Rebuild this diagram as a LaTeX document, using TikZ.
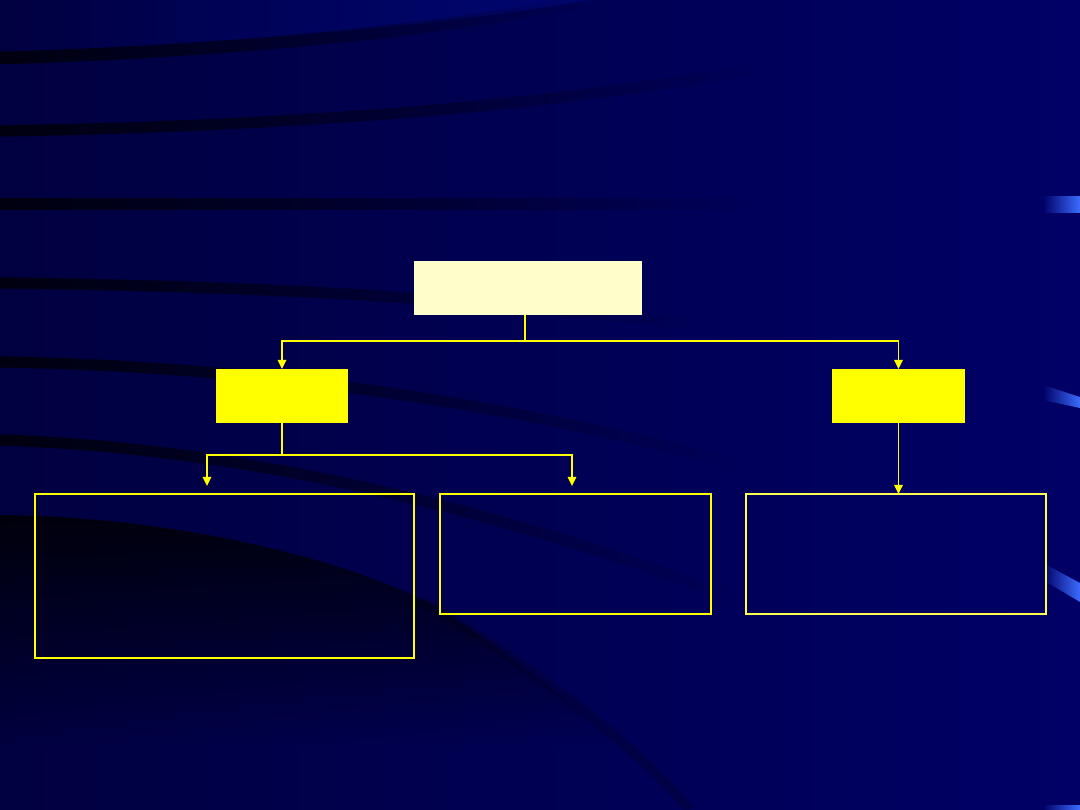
\documentclass[tikz,border=0pt]{standalone}
\usetikzlibrary{arrows.meta,fadings,calc}
\definecolor{navy}{HTML}{000066}
\definecolor{navydark}{HTML}{000040}
\definecolor{navylight}{HTML}{000C88}
\definecolor{cream}{HTML}{FFFFCC}
\definecolor{yel}{HTML}{FFFF00}
\definecolor{paleyel}{HTML}{FFFF50}
\definecolor{hiblue}{HTML}{3A6CFF}
\tikzfading[name=downfade, top color=transparent!0, middle color=transparent!30, bottom color=transparent!100]
\tikzset{
  fillbox/.style={draw=none,inner sep=0pt,outer sep=0pt},
  framebox/.style={draw=yel,line width=1.6pt,inner sep=0pt,outer sep=0pt},
  thinframe/.style={draw=paleyel,line width=0.9pt,inner sep=0pt,outer sep=0pt},
  arr/.style={draw=yel,line width=1.3pt,-{Triangle[length=6.5pt,width=6pt]}},
  conn/.style={draw=yel,line width=1.3pt},
  stripe/.style={draw=black,opacity=0.75,line cap=butt},
}
\begin{document}
\begin{tikzpicture}[x=0.025cm,y=-0.025cm]
% background
\shade[left color=navydark,right color=navy] (0,0) rectangle (1080,810);
\useasboundingbox (0,0) rectangle (1080,810);
% lighter area above the first stripe
\fill[navylight,opacity=0.55,path fading=west] (0,0) -- (0,52) .. controls (200,46) and (420,29) .. (590,0) -- cycle;
% dark stripes
\draw[stripe,line width=9pt,path fading=east] (0,58) .. controls (200,52) and (420,35) .. (590,0);
\draw[stripe,line width=8pt,path fading=east] (0,131) .. controls (300,126) and (560,105) .. (760,68);
\draw[stripe,line width=8pt,path fading=east] (0,204) -- (760,204);
\draw[stripe,line width=8pt,path fading=east] (0,283) .. controls (250,286) and (450,296) .. (700,325);
\draw[stripe,line width=8pt,path fading=east] (0,362) .. controls (250,366) and (500,400) .. (740,465);
\draw[stripe,line width=8pt,path fading=east] (0,440) .. controls (250,448) and (500,510) .. (740,600);
% large dark region bottom-left
\begin{scope}
\clip (0,515) .. controls (200,517) and (380,570) .. (450,615) .. controls (560,690) and (640,760) .. (690,810) -- (0,810) -- cycle;
\fill[black,opacity=0.85,path fading=downfade] (0,505) rectangle (720,745);
\end{scope}
\draw[black,opacity=0.2,line width=7pt] (420,600) .. controls (540,670) and (640,750) .. (690,810);
% blue highlights at right edge
\shade[left color=navy,right color=hiblue] (1043,196) rectangle (1080,212);
\shade[left color=navy,right color=hiblue] (1043,385) -- (1080,397) -- (1080,408) -- (1043,400) -- cycle;
\shade[left color=navy,right color=hiblue] (1043,563) -- (1080,583) -- (1080,602) -- (1043,580) -- cycle;
\shade[left color=navy,right color=hiblue] (1043,805) rectangle (1080,810);
% nodes
\node[fillbox,fill=cream,minimum width=5.7cm,minimum height=1.35cm] (top) at (528,288) {};
\node[fillbox,fill=yel,minimum width=3.3cm,minimum height=1.35cm] (ly) at (282,396) {};
\node[fillbox,fill=yel,minimum width=3.325cm,minimum height=1.35cm] (ry) at (898.5,396) {};
\node[framebox,minimum width=9.475cm,minimum height=4.1cm] (bl) at (224.5,576) {};
\node[framebox,minimum width=6.775cm,minimum height=3.0cm] (bm) at (575.5,554) {};
\node[thinframe,minimum width=7.5cm,minimum height=3.0cm] (br) at (896,554) {};
% junctions
\coordinate (j0) at (525,341);
\coordinate (j1) at (282,455);
\coordinate (la) at (207,486);
\coordinate (lb) at (572,486);
% connectors
\draw[conn] (j0 |- top.south) -- (j0);
\draw[arr] (j0) -| (ly.north);
\draw[arr] (j0) -| (ry.north);
\draw[conn] (ly.south) -- (j1);
\draw[arr] (j1) -| (la);
\draw[arr] (j1) -| (lb);
\draw[arr] (ry.south) -- (ry.south |- br.north);
\end{tikzpicture}
\end{document}
